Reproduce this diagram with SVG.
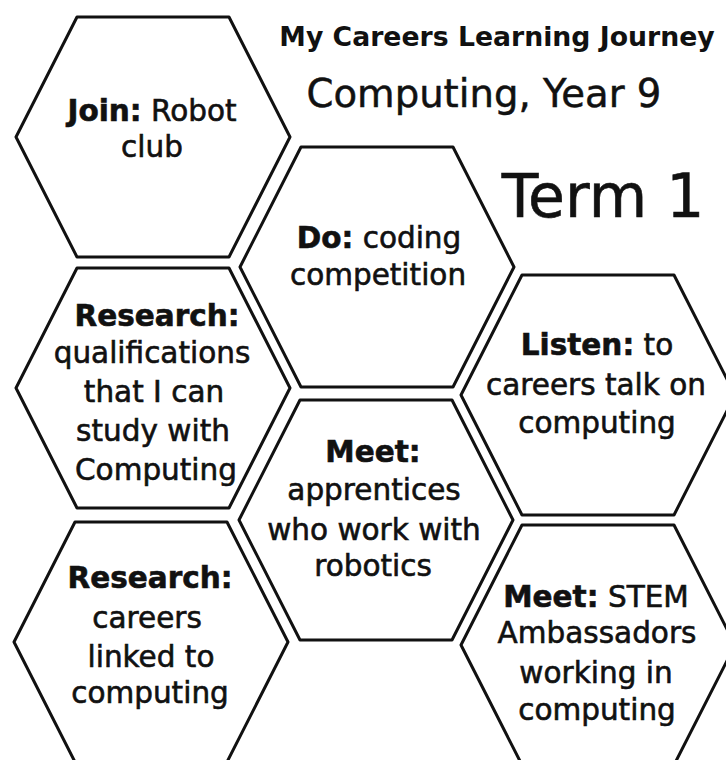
<svg xmlns="http://www.w3.org/2000/svg" width="726" height="760" viewBox="0 0 726 760">
<style>
.hex{fill:#fff;stroke:#111;stroke-width:3;stroke-linejoin:round}
.t{font-family:"DejaVu Sans","Liberation Sans",sans-serif;font-size:29.5px;fill:#111;stroke:#111;stroke-width:0.6;text-anchor:middle}
.b{font-weight:bold}
.title{font-family:"DejaVu Sans","Liberation Sans",sans-serif;fill:#111;text-anchor:middle}
</style>
<rect width="726" height="760" fill="#fff"/>
<g id="titles">
<text class="title b" x="497" y="46" font-size="26.7">My Careers Learning Journey</text>
<text class="title" x="484" y="107" font-size="38.6" stroke="#111" stroke-width="0.5">Computing, Year 9</text>
<text class="title" x="603" y="217" font-size="60" stroke="#111" stroke-width="0.6">Term 1</text>
</g>
<g id="connectors"/>
<g id="n-join">
<polygon class="hex" points="16,137 77,17 229,17 290,137 229,257 77,257"/>
<text class="t" x="152" y="121"><tspan class="b">Join:</tspan> Robot</text>
<text class="t" x="152" y="157">club</text>
</g>
<g id="n-do">
<polygon class="hex" points="240,267 301,147 453,147 514,267 453,387 301,387"/>
<text class="t" x="379" y="248"><tspan class="b">Do:</tspan> coding</text>
<text class="t" x="378" y="285">competition</text>
</g>
<g id="n-research-qual">
<polygon class="hex" points="16,388 77,268 229,268 290,388 229,508 77,508"/>
<text class="t" x="157" y="326"><tspan class="b">Research:</tspan></text>
<text class="t" x="152" y="363">qualifications</text>
<text class="t" x="154" y="402">that I can</text>
<text class="t" x="153" y="441">study with</text>
<text class="t" x="156" y="480">Computing</text>
</g>
<g id="n-listen">
<polygon class="hex" points="461,395 522,275 674,275 735,395 674,515 522,515"/>
<text class="t" x="597" y="355"><tspan class="b">Listen:</tspan> to</text>
<text class="t" x="596" y="395">careers talk on</text>
<text class="t" x="597" y="433">computing</text>
</g>
<g id="n-meet-apprentices">
<polygon class="hex" points="239,520 300,400 452,400 513,520 452,640 300,640"/>
<text class="t" x="373" y="462"><tspan class="b">Meet:</tspan></text>
<text class="t" x="374" y="500">apprentices</text>
<text class="t" x="374" y="540">who work with</text>
<text class="t" x="373" y="576">robotics</text>
</g>
<g id="n-research-careers">
<polygon class="hex" points="14,642 75,522 227,522 288,642 227,762 75,762"/>
<text class="t" x="150" y="588"><tspan class="b">Research:</tspan></text>
<text class="t" x="147" y="628">careers</text>
<text class="t" x="151" y="667">linked to</text>
<text class="t" x="150" y="703">computing</text>
</g>
<g id="n-meet-stem">
<polygon class="hex" points="461,645 522,525 674,525 735,645 674,765 522,765"/>
<text class="t" x="596" y="607"><tspan class="b">Meet:</tspan> STEM</text>
<text class="t" x="597" y="643">Ambassadors</text>
<text class="t" x="596" y="683">working in</text>
<text class="t" x="597" y="720">computing</text>
</g>
</svg>
